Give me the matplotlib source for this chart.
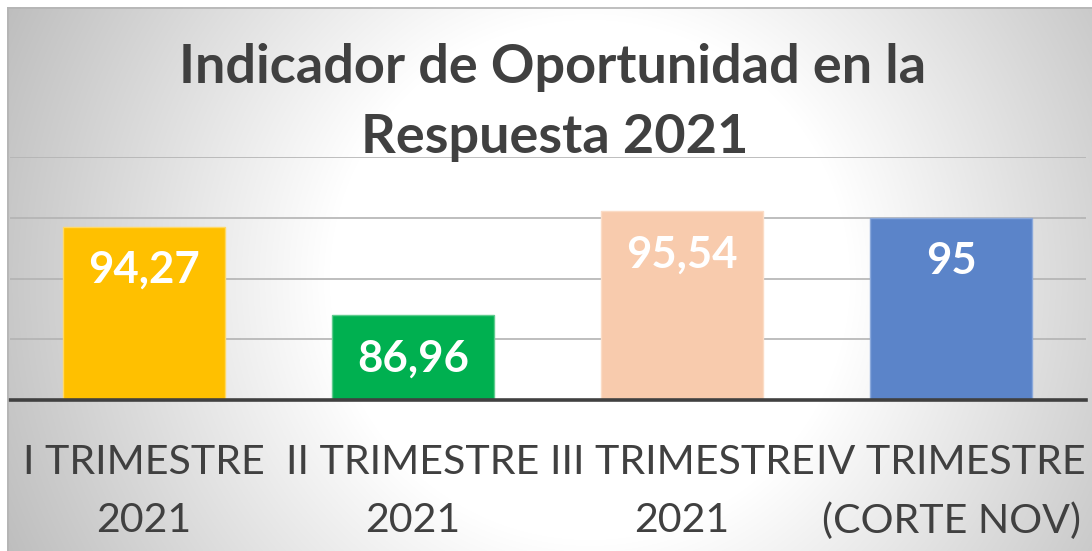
import numpy as np
import matplotlib
matplotlib.use("Agg")
import matplotlib.pyplot as plt
from matplotlib.lines import Line2D

# ---- data ----
categories = ["I TRIMESTRE\n2021", "II TRIMESTRE\n2021", "III TRIMESTRE\n2021", "IV TRIMESTRE\n(CORTE NOV)"]
values = [94.27, 86.96, 95.54, 95]
value_labels = ["94,27", "86,96", "95,54", "95"]
bar_colors = ["#FFC000", "#00B050", "#F8CBAD", "#5B84C9"]
title_lines = ["Indicador de Oportunidad en la", "Respuesta 2021"]

W, H = 1092, 551
fig = plt.figure(figsize=(W / 100, H / 100), dpi=100)
fig.patch.set_facecolor("white")

def fx(x):
    return x / W

def fy(y):
    return 1 - y / H

# ---- gradient background ----
bg = fig.add_axes([fx(7), 0, 1 - fx(7), fy(7)])
bg.set_axis_off()
xs = np.arange(7, W) + 0.5
ys = np.arange(7, H) + 0.5
X, Y = np.meshgrid(xs, ys)
R = np.hypot(X - 590, Y - 280)
c = 255 - 0.17 * np.clip(R - 260, 0, None)
c = np.clip(c, 190, 255) / 255.0
img = np.dstack([c, c, c])
bg.imshow(img, aspect="auto", extent=[0, 1, 0, 1], interpolation="bilinear")
bg.set_xlim(0, 1)
bg.set_ylim(0, 1)
fig.add_artist(Line2D([fx(7.5), fx(7.5)], [0, fy(7.5)], color="#b4b4b4", lw=1.2))
fig.add_artist(Line2D([fx(7.5), 1], [fy(7.5), fy(7.5)], color="#b4b4b4", lw=1.2))

# ---- main axes ----
ax = fig.add_axes([fx(9.5), fy(400), fx(1085.5) - fx(9.5), fy(157) - fy(400)])
ax.patch.set_alpha(0)
x = np.arange(len(categories))
bars = ax.bar(x, values, width=0.6, color=bar_colors, zorder=3,
              edgecolor=["#FFD966", "#5FCB8E", "#FBDCC6", "#8AA8DB"], linewidth=1.0)
ax.set_xlim(-0.5, len(categories) - 0.5)
ax.set_ylim(80, 100)
ax.set_yticks([85, 90, 95, 100])
ax.yaxis.grid(True, color="#b3b3b3", linewidth=1.2, zorder=0)
ax.set_axisbelow(True)
ax.tick_params(axis="y", left=False, labelleft=False)
for s in ["top", "right", "left"]:
    ax.spines[s].set_visible(False)
ax.spines["bottom"].set_color("#404040")
ax.spines["bottom"].set_linewidth(2.6)
ax.spines["bottom"].set_zorder(5)

ax.set_xticks(x)
ax.set_xticklabels(categories, fontsize=29.6, color="#404040", family="Lato",
                   linespacing=1.7)
ax.tick_params(axis="x", bottom=False, pad=28.0)

for xi, v, lab in zip(x, values, value_labels):
    ax.annotate(lab, xy=(xi, v), xytext=(0, -31), textcoords="offset points",
                ha="center", va="center", fontsize=31.5, fontweight="bold",
                color="white", family="Lato", zorder=6)

# ---- title ----
fig.text(fx(553), fy(83), title_lines[0], ha="center", va="baseline",
         fontsize=39, fontweight="bold", color="#404040", family="Lato")
fig.text(fx(555), fy(153), title_lines[1], ha="center", va="baseline",
         fontsize=39, fontweight="bold", color="#404040", family="Lato")

fig.savefig("out.png", dpi=100)
